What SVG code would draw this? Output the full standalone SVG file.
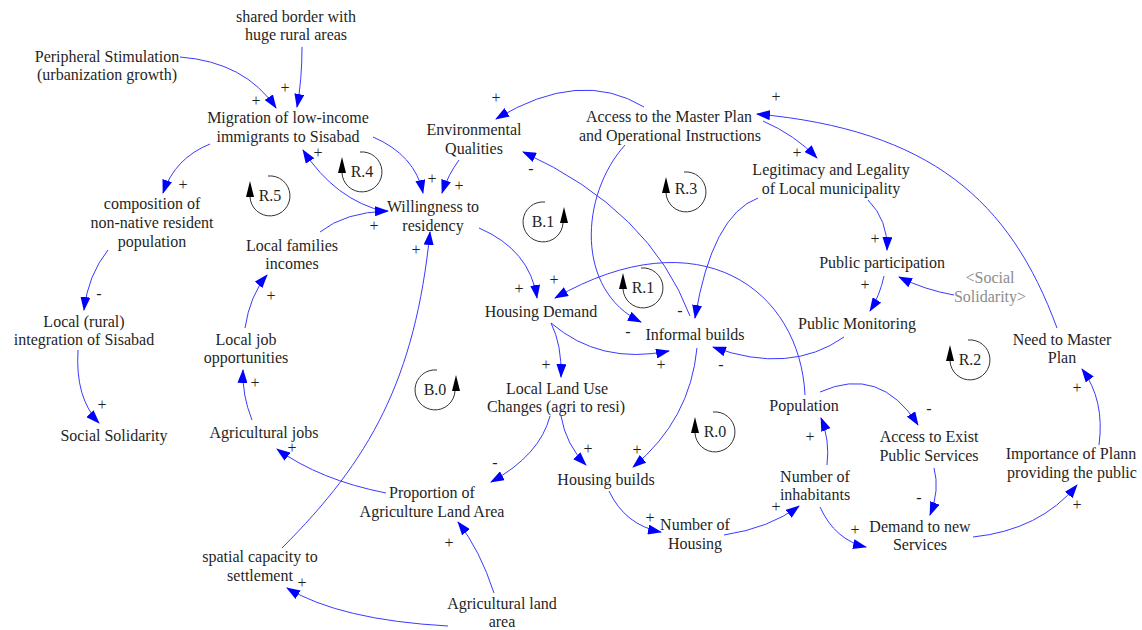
<svg xmlns="http://www.w3.org/2000/svg" width="1142" height="630" viewBox="0 0 1142 630">
  <defs>
    <style>
      .lbl { font-family: 'Liberation Serif', Tinos, 'Noto Serif', 'DejaVu Serif', 'Times New Roman', Times, serif; font-size: 16px; fill: #1f1f1f; text-anchor: middle; }
      .shadow { fill: #8c8c8c; }
      .sign { font-family: 'Liberation Serif', Tinos, 'Noto Serif', 'DejaVu Serif', 'Times New Roman', Times, serif; font-size: 16px; fill: #1f1f1f; text-anchor: middle; }
      .edge { fill: none; stroke: #3a3aff; stroke-width: 1; marker-end: url(#ah); }
      .loop { fill: none; stroke: #333333; stroke-width: 1; }
      .loophead { fill: #000000; }
    </style>
    <marker id="ah" viewBox="0 0 14 10" refX="13" refY="5" markerWidth="14" markerHeight="10" markerUnits="userSpaceOnUse" orient="auto">
      <path d="M0,0 L14,5 L0,10 z" fill="#0000ff"/>
    </marker>
  </defs>

  <rect x="0" y="0" width="1142" height="630" fill="#ffffff"/>

  <!-- causal links -->
  <g id="connectors">
    <path class="edge" d="M180,57 Q245,62 276,108"/>
    <path class="edge" d="M302,47 Q302,80 297,107"/>
    <path class="edge" d="M210,144 Q175,158 163,193"/>
    <path class="edge" d="M108,250 Q88,275 84,310"/>
    <path class="edge" d="M78,350 Q75,398 99,423"/>
    <path class="edge" d="M386,212 Q335,200 303,150"/>
    <path class="edge" d="M320,232 Q345,212 388,211"/>
    <path class="edge" d="M373,137 Q415,155 423,193"/>
    <path class="edge" d="M459,160 Q448,175 442,193"/>
    <path class="edge" d="M644,107 Q580,68 496,119"/>
    <path class="edge" d="M690,316 Q650,210 523,152"/>
    <path class="edge" d="M625,145 C580,195 575,290 641,322"/>
    <path class="edge" d="M758,198 Q712,215 695,318"/>
    <path class="edge" d="M763,121 Q795,135 817,158"/>
    <path class="edge" d="M1057,328 C1010,200 930,130 757,114"/>
    <path class="edge" d="M868,200 Q888,220 887,250"/>
    <path class="edge" d="M954,295 Q925,290 899,277"/>
    <path class="edge" d="M884,276 Q880,295 870,311"/>
    <path class="edge" d="M844,337 Q790,375 713,347"/>
    <path class="edge" d="M551,323 Q600,365 669,351"/>
    <path class="edge" d="M805,395 C800,290 700,215 555,298"/>
    <path class="edge" d="M479,228 Q530,250 537,298"/>
    <path class="edge" d="M282,548 C370,460 415,380 430,232"/>
    <path class="edge" d="M551,323 Q562,345 561,377"/>
    <path class="edge" d="M561,416 Q566,445 586,465"/>
    <path class="edge" d="M550,416 Q540,455 491,482"/>
    <path class="edge" d="M697,348 Q690,420 633,467"/>
    <path class="edge" d="M609,491 Q625,525 661,532"/>
    <path class="edge" d="M724,535 Q770,528 799,506"/>
    <path class="edge" d="M827,465 Q830,440 821,418"/>
    <path class="edge" d="M820,392 Q880,365 918,425"/>
    <path class="edge" d="M820,507 Q835,540 866,547"/>
    <path class="edge" d="M934,468 Q940,490 930,515"/>
    <path class="edge" d="M973,537 Q1040,530 1077,485"/>
    <path class="edge" d="M1099,445 Q1105,400 1082,369"/>
    <path class="edge" d="M494,593 Q480,550 458,522"/>
    <path class="edge" d="M448,626 Q340,620 287,588"/>
    <path class="edge" d="M386,493 Q320,480 277,449"/>
    <path class="edge" d="M252,420 Q242,395 243,370"/>
    <path class="edge" d="M245,328 Q250,295 267,275"/>
  </g>

  <!-- link polarities -->
  <g id="polarities">
    <text class="sign" x="256" y="106">+</text>
    <text class="sign" x="285" y="93">+</text>
    <text class="sign" x="183" y="190">+</text>
    <text class="sign" x="99" y="299">-</text>
    <text class="sign" x="102" y="410">+</text>
    <text class="sign" x="318" y="158">+</text>
    <text class="sign" x="374" y="231">+</text>
    <text class="sign" x="432" y="184">+</text>
    <text class="sign" x="459" y="191">+</text>
    <text class="sign" x="496" y="103">+</text>
    <text class="sign" x="531" y="174">-</text>
    <text class="sign" x="628" y="337">-</text>
    <text class="sign" x="680" y="316">-</text>
    <text class="sign" x="797" y="158">+</text>
    <text class="sign" x="776" y="102">+</text>
    <text class="sign" x="875" y="244">+</text>
    <text class="sign" x="865" y="290">+</text>
    <text class="sign" x="721" y="370">-</text>
    <text class="sign" x="661" y="370">+</text>
    <text class="sign" x="554" y="285">+</text>
    <text class="sign" x="519" y="294">+</text>
    <text class="sign" x="416" y="255">+</text>
    <text class="sign" x="546" y="370">+</text>
    <text class="sign" x="588" y="454">+</text>
    <text class="sign" x="495" y="468">-</text>
    <text class="sign" x="637" y="455">+</text>
    <text class="sign" x="650" y="523">+</text>
    <text class="sign" x="776" y="512">+</text>
    <text class="sign" x="810" y="442">+</text>
    <text class="sign" x="929" y="414">-</text>
    <text class="sign" x="855" y="535">+</text>
    <text class="sign" x="919" y="503">-</text>
    <text class="sign" x="1077" y="510">+</text>
    <text class="sign" x="1077" y="393">+</text>
    <text class="sign" x="449" y="548">+</text>
    <text class="sign" x="302" y="588">+</text>
    <text class="sign" x="292" y="453">+</text>
    <text class="sign" x="255" y="388">+</text>
    <text class="sign" x="271" y="301">+</text>
  </g>

  <!-- feedback loop identifiers -->
  <g id="loop-R5">
    <path class="loop" d="M268,176 A20,20 0 1 1 250,197"/>
    <polygon class="loophead" points="250,181 246,197 254,197"/>
    <text class="lbl" x="270" y="201">R.5</text>
  </g>
  <g id="loop-R4">
    <path class="loop" d="M360,152 A20,20 0 1 1 342,173"/>
    <polygon class="loophead" points="342,157 338,173 346,173"/>
    <text class="lbl" x="362" y="177">R.4</text>
  </g>
  <g id="loop-B1">
    <path class="loop" d="M545,202 A20,20 0 1 0 563,223"/>
    <polygon class="loophead" points="564,207 560,223 568,223"/>
    <text class="lbl" x="543" y="227">B.1</text>
  </g>
  <g id="loop-R3">
    <path class="loop" d="M684,172 A20,20 0 1 1 666,193"/>
    <polygon class="loophead" points="666,177 662,193 670,193"/>
    <text class="lbl" x="686" y="194">R.3</text>
  </g>
  <g id="loop-R1">
    <path class="loop" d="M641,268 A20,20 0 1 1 623,289"/>
    <polygon class="loophead" points="623,273 619,289 627,289"/>
    <text class="lbl" x="643" y="293">R.1</text>
  </g>
  <g id="loop-R2">
    <path class="loop" d="M968,340 A20,20 0 1 1 950,361"/>
    <polygon class="loophead" points="950,345 946,361 954,361"/>
    <text class="lbl" x="970" y="365">R.2</text>
  </g>
  <g id="loop-B0">
    <path class="loop" d="M437,370 A20,20 0 1 0 455,391"/>
    <polygon class="loophead" points="456,375 452,391 460,391"/>
    <text class="lbl" x="435" y="395">B.0</text>
  </g>
  <g id="loop-R0">
    <path class="loop" d="M713,412 A20,20 0 1 1 695,433"/>
    <polygon class="loophead" points="695,417 691,433 699,433"/>
    <text class="lbl" x="715" y="437">R.0</text>
  </g>

  <!-- variables -->
  <g id="shared-border">
    <text class="lbl" x="296" y="22">shared border with</text>
    <text class="lbl" x="296" y="40">huge rural areas</text>
  </g>
  <g id="peripheral-stimulation">
    <text class="lbl" x="107" y="62">Peripheral Stimulation</text>
    <text class="lbl" x="107" y="80">(urbanization growth)</text>
  </g>
  <g id="migration">
    <text class="lbl" x="288" y="123">Migration of low-income</text>
    <text class="lbl" x="288" y="142">immigrants to Sisabad</text>
  </g>
  <g id="environmental-qualities">
    <text class="lbl" x="474" y="135">Environmental</text>
    <text class="lbl" x="474" y="154">Qualities</text>
  </g>
  <g id="access-master-plan">
    <text class="lbl" x="669" y="122">Access to the Master Plan</text>
    <text class="lbl" x="670" y="141">and Operational Instructions</text>
  </g>
  <g id="legitimacy">
    <text class="lbl" x="831" y="175">Legitimacy and Legality</text>
    <text class="lbl" x="831" y="194">of Local municipality</text>
  </g>
  <g id="composition">
    <text class="lbl" x="152" y="209">composition of</text>
    <text class="lbl" x="152" y="228">non-native resident</text>
    <text class="lbl" x="152" y="247">population</text>
  </g>
  <g id="willingness">
    <text class="lbl" x="433" y="212">Willingness to</text>
    <text class="lbl" x="433" y="231">residency</text>
  </g>
  <g id="local-families-incomes">
    <text class="lbl" x="292" y="251">Local families</text>
    <text class="lbl" x="292" y="269">incomes</text>
  </g>
  <g id="public-participation">
    <text class="lbl" x="882" y="268">Public participation</text>
  </g>
  <g id="social-solidarity-shadow">
    <text class="lbl shadow" x="990" y="283">&lt;Social</text>
    <text class="lbl shadow" x="990" y="302">Solidarity&gt;</text>
  </g>
  <g id="housing-demand">
    <text class="lbl" x="541" y="317">Housing Demand</text>
  </g>
  <g id="public-monitoring">
    <text class="lbl" x="857" y="329">Public Monitoring</text>
  </g>
  <g id="local-integration">
    <text class="lbl" x="84" y="327">Local (rural)</text>
    <text class="lbl" x="84" y="345">integration of Sisabad</text>
  </g>
  <g id="local-job-opportunities">
    <text class="lbl" x="246" y="345">Local job</text>
    <text class="lbl" x="246" y="363">opportunities</text>
  </g>
  <g id="informal-builds">
    <text class="lbl" x="695" y="340">Informal builds</text>
  </g>
  <g id="need-master-plan">
    <text class="lbl" x="1062" y="345">Need to Master</text>
    <text class="lbl" x="1062" y="363">Plan</text>
  </g>
  <g id="land-use-changes">
    <text class="lbl" x="557" y="394">Local Land Use</text>
    <text class="lbl" x="556" y="412">Changes (agri to resi)</text>
  </g>
  <g id="population">
    <text class="lbl" x="804" y="411">Population</text>
  </g>
  <g id="social-solidarity">
    <text class="lbl" x="114" y="441">Social Solidarity</text>
  </g>
  <g id="agricultural-jobs">
    <text class="lbl" x="264" y="438">Agricultural jobs</text>
  </g>
  <g id="access-public-services">
    <text class="lbl" x="929" y="442">Access to Exist</text>
    <text class="lbl" x="929" y="461">Public Services</text>
  </g>
  <g id="importance-of-plan">
    <text class="lbl" x="1071" y="459">Importance of Plann</text>
    <text class="lbl" x="1072" y="478">providing the public</text>
  </g>
  <g id="number-of-inhabitants">
    <text class="lbl" x="815" y="482">Number of</text>
    <text class="lbl" x="815" y="500">inhabitants</text>
  </g>
  <g id="housing-builds">
    <text class="lbl" x="606" y="485">Housing builds</text>
  </g>
  <g id="agri-land-proportion">
    <text class="lbl" x="432" y="498">Proportion of</text>
    <text class="lbl" x="432" y="517">Agriculture Land Area</text>
  </g>
  <g id="number-of-housing">
    <text class="lbl" x="695" y="530">Number of</text>
    <text class="lbl" x="695" y="549">Housing</text>
  </g>
  <g id="demand-new-services">
    <text class="lbl" x="920" y="532">Demand to new</text>
    <text class="lbl" x="920" y="550">Services</text>
  </g>
  <g id="spatial-capacity">
    <text class="lbl" x="260" y="562">spatial capacity to</text>
    <text class="lbl" x="260" y="581">settlement</text>
  </g>
  <g id="agricultural-land-area">
    <text class="lbl" x="502" y="609">Agricultural land</text>
    <text class="lbl" x="502" y="627">area</text>
  </g>
</svg>
